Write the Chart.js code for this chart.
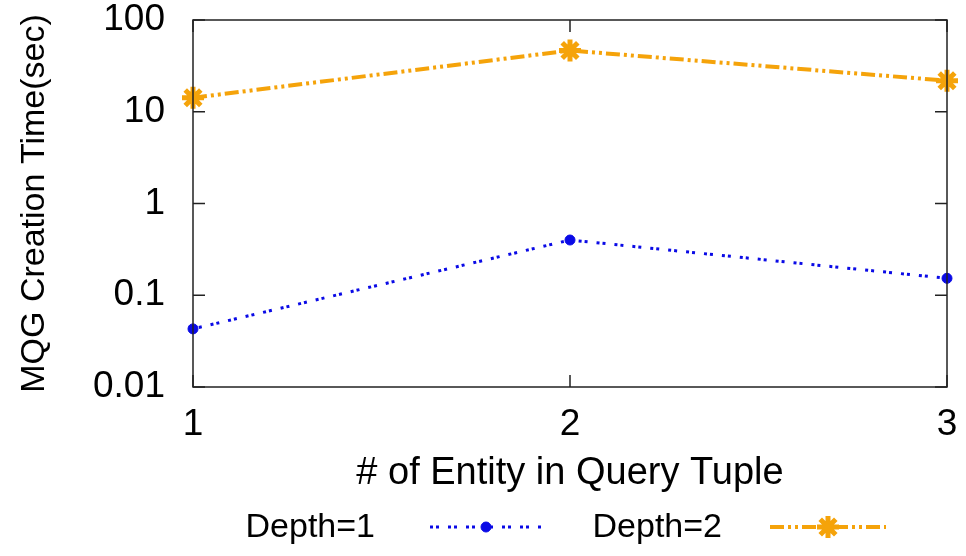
<!DOCTYPE html>
<html><head><meta charset="utf-8">
<script src="https://cdn.jsdelivr.net/npm/chart.js@4/dist/chart.umd.min.js"></script>
<style>html,body{margin:0;padding:0;background:#fff}canvas{display:block}</style>
</head><body>
<canvas id="c" width="966" height="556"></canvas>
<script>
const categories = ['1', '2', '3'];
const depth1 = [0.043, 0.40, 0.153];
const depth2 = [14.2, 46.5, 21.8];
const yTicks = [0.01, 0.1, 1, 10, 100];
const seriesNames = ['Depth=1', 'Depth=2'];
const xTitle = '# of Entity in Query Tuple';
const yTitle = 'MQG Creation Time(sec)';

const FONT = '"Liberation Sans", Arial, Helvetica, sans-serif';
const BLUE = '#0a0ae6';
const ORANGE = '#f5a30a';

const frameTicks = {
  id: 'frameTicks',
  afterDatasetsDraw(chart) {
    const {ctx, chartArea: a, scales} = chart;
    ctx.save();
    ctx.strokeStyle = '#222';
    ctx.lineWidth = 1.5;
    ctx.strokeRect(a.left, a.top, a.right - a.left, a.bottom - a.top);
    const L = 12;
    ctx.beginPath();
    yTicks.forEach(v => {
      const y = scales.y.getPixelForValue(v);
      ctx.moveTo(a.left, y); ctx.lineTo(a.left + L, y);
      ctx.moveTo(a.right, y); ctx.lineTo(a.right - L, y);
    });
    categories.forEach((c, i) => {
      const x = scales.x.getPixelForValue(i);
      ctx.moveTo(x, a.bottom); ctx.lineTo(x, a.bottom - L);
      ctx.moveTo(x, a.top); ctx.lineTo(x, a.top + L);
    });
    ctx.stroke();
    ctx.restore();
  }
};

const bottomLegend = {
  id: 'bottomLegend',
  afterDraw(chart) {
    const {ctx} = chart;
    const y = 527;
    const items = [
      {textRight: 375, lineL: 430, lineR: 542},
      {textRight: 722, lineL: 770, lineR: 886}
    ];
    ctx.save();
    ctx.font = '34px ' + FONT;
    ctx.textAlign = 'right';
    ctx.textBaseline = 'middle';
    chart.data.datasets.forEach((ds, i) => {
      const it = items[i];
      ctx.fillStyle = '#000';
      ctx.fillText(ds.label, it.textRight, y + 1);
      ctx.strokeStyle = ds.borderColor;
      ctx.lineWidth = ds.borderWidth;
      ctx.setLineDash(ds.borderDash);
      ctx.beginPath();
      ctx.moveTo(it.lineL, y); ctx.lineTo(it.lineR, y);
      ctx.stroke();
      ctx.setLineDash([]);
      const cx = (it.lineL + it.lineR) / 2;
      ctx.fillStyle = ds.borderColor;
      ctx.strokeStyle = ds.borderColor;
      ctx.lineWidth = ds.pointBorderWidth;
      Chart.helpers.drawPoint(ctx, {
        pointStyle: ds.pointStyle, radius: ds.pointRadius,
        borderWidth: ds.pointBorderWidth, rotation: 0
      }, cx, y);
    });
    ctx.restore();
  }
};

new Chart(document.getElementById('c'), {
  type: 'line',
  data: {
    labels: categories,
    datasets: [
      {
        label: seriesNames[0], data: depth1,
        borderColor: BLUE, backgroundColor: BLUE, borderWidth: 3,
        borderDash: [3, 3, 3, 9],
        pointStyle: 'circle', pointRadius: 5, pointBorderWidth: 1,
        pointBackgroundColor: BLUE, pointBorderColor: BLUE, tension: 0
      },
      {
        label: seriesNames[1], data: depth2,
        borderColor: ORANGE, backgroundColor: ORANGE, borderWidth: 4,
        borderDash: [14, 4, 3, 4, 3, 4],
        pointStyle: 'star', pointRadius: 11, pointBorderWidth: 5,
        pointBackgroundColor: ORANGE, pointBorderColor: ORANGE, tension: 0
      }
    ]
  },
  options: {
    responsive: false,
    animation: false,
    devicePixelRatio: 1,
    layout: {padding: {left: 14, right: 19, top: 20, bottom: 63}},
    plugins: {legend: {display: false}, tooltip: {enabled: false}},
    scales: {
      x: {
        type: 'category', offset: false,
        grid: {display: false, drawTicks: false}, border: {display: false},
        ticks: {color: '#000', font: {family: FONT, size: 37, lineHeight: 1.0}, padding: 19, maxRotation: 0},
        title: {display: true, text: xTitle, color: '#000', font: {family: FONT, size: 38, lineHeight: 1.0}, padding: {top: -7, bottom: 0}},
        afterFit(scale) { scale.paddingLeft = 0; scale.paddingRight = 0; }
      },
      y: {
        type: 'logarithmic', min: 0.01, max: 100,
        afterBuildTicks(scale) { scale.ticks = yTicks.map(v => ({value: v})); },
        grid: {display: false, drawTicks: false}, border: {display: false},
        ticks: {color: '#000', font: {family: FONT, size: 37}, padding: 28,
          callback: v => String(v)},
        title: {display: true, text: yTitle, color: '#000', font: {family: FONT, size: 34}, padding: {top: 0, bottom: 8}},
        afterFit(scale) { scale.paddingTop = 0; scale.paddingBottom = 0; scale.width = 179; }
      }
    }
  },
  plugins: [frameTicks, bottomLegend]
});
</script>
</body></html>
